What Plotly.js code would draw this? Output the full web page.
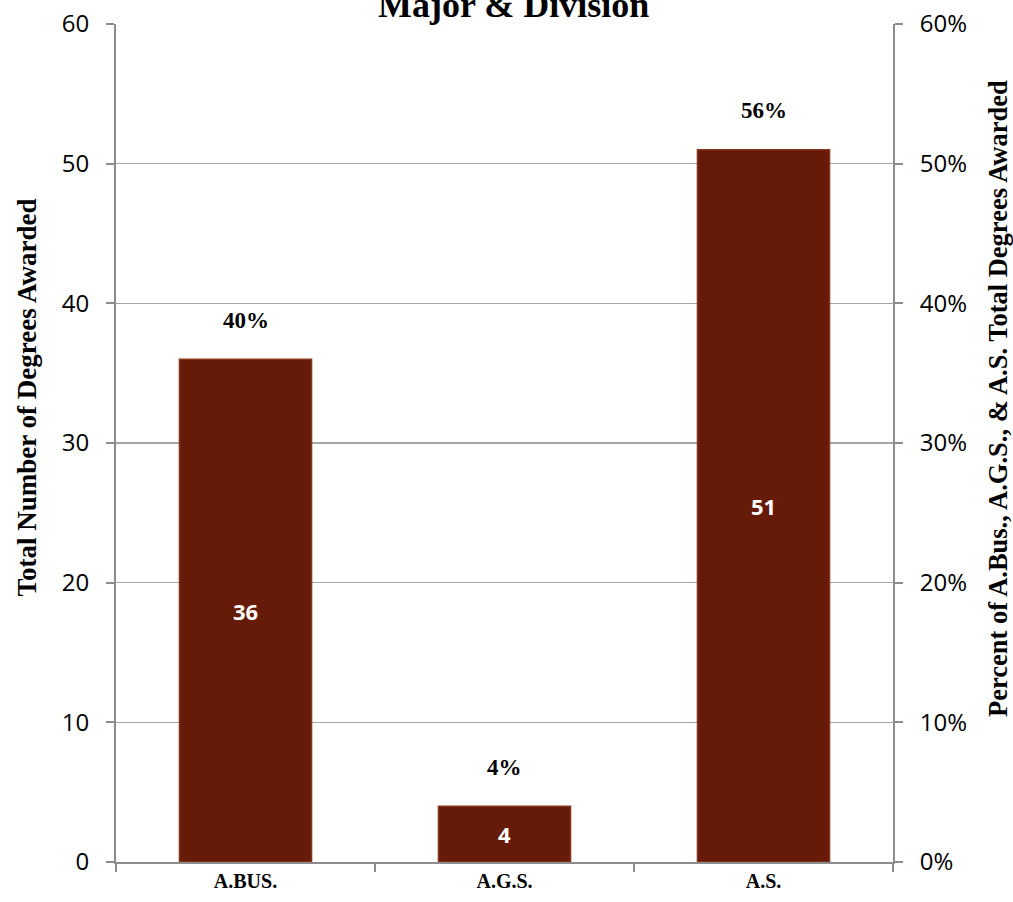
<!DOCTYPE html>
<html>
<head>
<meta charset="utf-8">
<script src="https://cdn.plot.ly/plotly-3.0.1.min.js"></script>
<style>html,body{margin:0;padding:0;background:#fff;}#chart{width:1013px;height:902px;}</style>
</head>
<body>
<div id="chart"></div>
<script>
const categories = ["A.BUS.", "A.G.S.", "A.S."];
const degrees = [36, 4, 51];
const percents = [40, 4, 56];
const leftTicks = [0, 10, 20, 30, 40, 50, 60];
const rightTicks = [0, 0.1, 0.2, 0.3, 0.4, 0.5, 0.6];
const rightTickLabels = ["0%", "10%", "20%", "30%", "40%", "50%", "60%"];
const leftTitle = "Total Number of Degrees Awarded";
const rightTitle = "Percent of A.Bus., A.G.S., & A.S. Total Degrees Awarded";

const serif = "Liberation Serif, Times New Roman, serif";
const sans = "Open Sans, Liberation Sans, sans-serif";

const traces = [
  {
    type: "bar",
    x: categories,
    y: degrees,
    text: degrees.map(String),
    textposition: "inside",
    insidetextanchor: "middle",
    textangle: 0,
    textfont: {family: sans, size: 22, color: "#ffffff", weight: "bold"},
    marker: {color: "#661b09", line: {color: "#86351d", width: 1.5}},
    hoverinfo: "skip",
    showlegend: false
  },
  {
    type: "scatter",
    mode: "markers",
    x: categories,
    y: percents.map(p => p / 100),
    yaxis: "y2",
    marker: {opacity: 0},
    hoverinfo: "skip",
    showlegend: false
  }
];

const annotations = categories.map((c, i) => ({
  x: c, y: degrees[i], xref: "x", yref: "y",
  text: percents[i] + "%",
  showarrow: false,
  yshift: 39,
  font: {family: serif, size: 23, color: "#000", weight: "bold"}
}));
annotations.push({
  text: leftTitle, xref: "paper", yref: "paper",
  x: -0.1145, y: 0.5543, xanchor: "center", yanchor: "middle",
  textangle: -90, showarrow: false,
  font: {family: serif, size: 27, color: "#000", weight: "bold"}
});
annotations.push({
  text: rightTitle, xref: "paper", yref: "paper",
  x: 1.1352, y: 0.5525, xanchor: "center", yanchor: "middle",
  textangle: -90, showarrow: false,
  font: {family: serif, size: 26.5, color: "#000", weight: "bold"}
});

const layout = {
  width: 1013, height: 902,
  margin: {l: 116, r: 120, t: 24, b: 40},
  paper_bgcolor: "#ffffff",
  plot_bgcolor: "#ffffff",
  bargap: 0.49,
  showlegend: false,
  title: {
    text: "Major & Division",
    font: {family: serif, size: 36, color: "#000", weight: "bold"},
    x: 0.507, xref: "container", xanchor: "center",
    y: 0.995, yref: "container", yanchor: "middle"
  },
  xaxis: {
    type: "category",
    showline: true, linecolor: "#8c8c8c", linewidth: 2,
    ticks: "outside", tickson: "boundaries", ticklen: 8, tickcolor: "#8c8c8c", tickwidth: 2,
    tickfont: {family: serif, size: 20, color: "#000", weight: "bold"},
    showgrid: false, zeroline: false
  },
  yaxis: {
    range: [0, 60],
    tickvals: leftTicks,
    ticks: "outside", ticklen: 8, tickcolor: "#8c8c8c", tickwidth: 2,
    showline: true, linecolor: "#8c8c8c", linewidth: 2,
    showgrid: true, gridcolor: "#a6a6a6", gridwidth: 1.3,
    zeroline: false,
    tickfont: {family: sans, size: 24, color: "#000"},
    ticklabelstandoff: 12
  },
  yaxis2: {
    overlaying: "y", side: "right",
    range: [0, 0.6],
    tickvals: rightTicks, ticktext: rightTickLabels,
    ticks: "outside", ticklen: 8, tickcolor: "#8c8c8c", tickwidth: 2,
    showline: true, linecolor: "#8c8c8c", linewidth: 2,
    showgrid: false, zeroline: false,
    tickfont: {family: sans, size: 24, color: "#000"},
    ticklabelstandoff: 12
  },
  annotations: annotations
};

Plotly.newPlot("chart", traces, layout, {displayModeBar: false, staticPlot: true});
</script>
</body>
</html>
